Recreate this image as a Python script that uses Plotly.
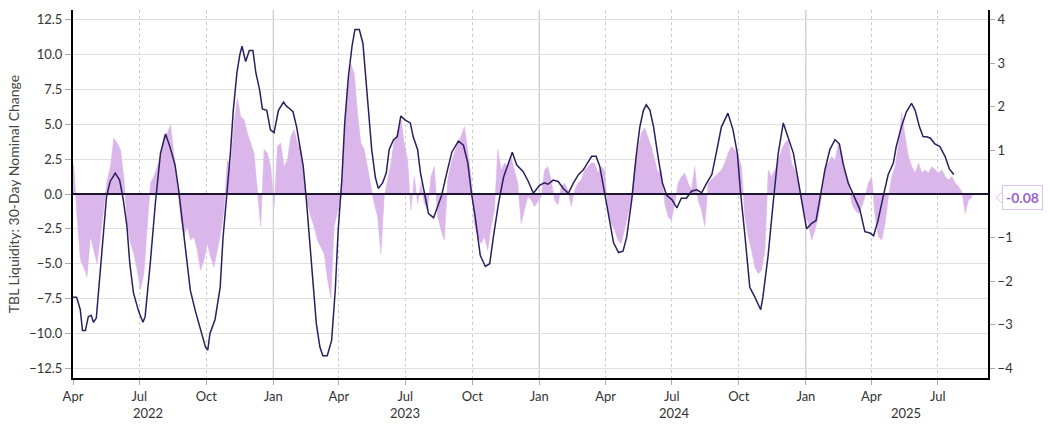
import pandas as pd
import plotly.graph_objects as go

# ---------------- data ----------------
line_dates = [
    "2022-04-01", "2022-04-06", "2022-04-11", "2022-04-14", "2022-04-18", "2022-04-22", "2022-04-26", "2022-04-29",
    "2022-05-03", "2022-05-08", "2022-05-13", "2022-05-17", "2022-05-22", "2022-05-29", "2022-06-04", "2022-06-09",
    "2022-06-14", "2022-06-18", "2022-06-23", "2022-06-30", "2022-07-06", "2022-07-09", "2022-07-16", "2022-07-23",
    "2022-07-30", "2022-08-06", "2022-08-12", "2022-08-19", "2022-08-24", "2022-08-28", "2022-09-02", "2022-09-09",
    "2022-09-16", "2022-09-23", "2022-09-30", "2022-10-03", "2022-10-06", "2022-10-13", "2022-10-20", "2022-10-24",
    "2022-10-29", "2022-11-03", "2022-11-07", "2022-11-12", "2022-11-16", "2022-11-19", "2022-11-24", "2022-11-29",
    "2022-12-04", "2022-12-08", "2022-12-13", "2022-12-17", "2022-12-23", "2022-12-28", "2023-01-02", "2023-01-08",
    "2023-01-15", "2023-01-19", "2023-01-24", "2023-01-28", "2023-02-02", "2023-02-07", "2023-02-11", "2023-02-15",
    "2023-02-20", "2023-02-25", "2023-03-01", "2023-03-06", "2023-03-10", "2023-03-16", "2023-03-22", "2023-03-27",
    "2023-03-31", "2023-04-05", "2023-04-09", "2023-04-14", "2023-04-19", "2023-04-23", "2023-04-29", "2023-05-04",
    "2023-05-07", "2023-05-12", "2023-05-16", "2023-05-21", "2023-05-25", "2023-05-31", "2023-06-05", "2023-06-09",
    "2023-06-15", "2023-06-20", "2023-06-25", "2023-07-01", "2023-07-08", "2023-07-12", "2023-07-18", "2023-07-22",
    "2023-07-27", "2023-08-02", "2023-08-09", "2023-08-14", "2023-08-20", "2023-08-27", "2023-09-03", "2023-09-12",
    "2023-09-19", "2023-09-25", "2023-09-30", "2023-10-05", "2023-10-12", "2023-10-19", "2023-10-25", "2023-10-30",
    "2023-11-06", "2023-11-13", "2023-11-20", "2023-11-25", "2023-12-01", "2023-12-10", "2023-12-17", "2023-12-24",
    "2024-01-01", "2024-01-08", "2024-01-13", "2024-01-20", "2024-01-27", "2024-02-03", "2024-02-10", "2024-02-17",
    "2024-02-24", "2024-03-01", "2024-03-07", "2024-03-13", "2024-03-19", "2024-03-24", "2024-03-30", "2024-04-05",
    "2024-04-12", "2024-04-19", "2024-04-25", "2024-04-30", "2024-05-07", "2024-05-13", "2024-05-18", "2024-05-23",
    "2024-05-27", "2024-06-01", "2024-06-06", "2024-06-12", "2024-06-18", "2024-06-24", "2024-07-01", "2024-07-08",
    "2024-07-14", "2024-07-21", "2024-07-28", "2024-08-04", "2024-08-11", "2024-08-18", "2024-08-25", "2024-09-01",
    "2024-09-07", "2024-09-16", "2024-09-23", "2024-09-29", "2024-10-03", "2024-10-09", "2024-10-16", "2024-10-23",
    "2024-10-31", "2024-11-03", "2024-11-10", "2024-11-17", "2024-11-24", "2024-12-01", "2024-12-08", "2024-12-15",
    "2024-12-22", "2024-12-29", "2025-01-02", "2025-01-09", "2025-01-15", "2025-01-20", "2025-01-27", "2025-02-03",
    "2025-02-10", "2025-02-16", "2025-02-21", "2025-02-28", "2025-03-09", "2025-03-16", "2025-03-23", "2025-03-30",
    "2025-04-04", "2025-04-10", "2025-04-17", "2025-04-24", "2025-05-01", "2025-05-05", "2025-05-12", "2025-05-19",
    "2025-05-26", "2025-05-31", "2025-06-06", "2025-06-11", "2025-06-16", "2025-06-21", "2025-06-27", "2025-07-04",
    "2025-07-11", "2025-07-17", "2025-07-23",
]
line_values = [
    -7.4, -7.4, -8.3, -9.8, -9.8, -8.8, -8.7, -9.2,
    -8.9, -5.9, -3.1, -0.2, 0.9, 1.5, 1.0, -0.4,
    -2.3, -5.0, -7.1, -8.4, -9.2, -8.8, -5.0, -0.7,
    2.9, 4.3, 3.4, 2.1, 0.3, -1.6, -3.5, -6.9,
    -8.4, -9.8, -11.0, -11.2, -10.0, -9.0, -6.7, -3.1,
    -0.1, 2.9, 6.0, 8.7, 10.0, 10.6, 9.5, 10.3,
    10.3, 8.7, 7.5, 6.1, 6.0, 4.6, 4.4, 6.0,
    6.6, 6.3, 6.1, 5.9, 4.8, 3.3, 2.0, -0.2,
    -3.5, -7.1, -9.3, -11.0, -11.6, -11.6, -10.5, -6.9,
    -2.6, 1.0, 5.1, 8.4, 10.6, 11.8, 11.8, 10.8,
    8.9, 5.6, 3.2, 1.2, 0.4, 0.8, 1.5, 3.2,
    3.9, 4.1, 5.6, 5.3, 5.1, 4.1, 3.2, 1.5,
    0.05, -1.4, -1.7, -0.9, -0.1, 1.5, 3.0, 3.8,
    3.5, 2.2, 0.05, -1.6, -4.4, -5.2, -5.0, -3.1,
    -0.7, 1.2, 2.3, 3.0, 2.1, 1.6, 0.9, 0.05,
    0.6, 0.8, 0.7, 1.0, 0.9, 0.4, 0.05, 0.8,
    1.4, 1.7, 2.2, 2.7, 2.7, 2.0, 0.3, -1.4,
    -3.5, -4.2, -4.1, -3.1, -0.4, 2.7, 4.8, 6.0,
    6.4, 6.0, 4.8, 2.7, 0.8, -0.1, -0.4, -1.0,
    -0.3, -0.3, 0.2, 0.3, 0.1, 0.8, 1.4, 3.2,
    4.8, 5.8, 4.6, 2.9, 0.3, -2.8, -6.7, -7.4,
    -8.3, -7.4, -4.5, -0.7, 2.9, 5.1, 4.0, 2.9,
    0.8, -1.4, -2.5, -2.1, -1.9, -0.4, 1.7, 3.2,
    3.9, 3.6, 2.2, 0.8, -0.2, -1.1, -2.7, -2.8,
    -3.0, -1.9, -0.2, 1.4, 2.2, 3.4, 4.8, 5.9,
    6.5, 6.0, 4.8, 4.1, 4.1, 4.0, 3.6, 3.4,
    2.7, 1.8, 1.4,
]

# 30-day nominal change series (right axis), regularly sampled
fill_start = "2022-03-28 10:00"
fill_step = "110h"
fill_values = [
    0.63, 0.67, -0.52, -1.52, -1.68, -1.9, -0.98, -1.29, -1.6, -0.98,
    -0.29, 0.32, 0.63, 1.28, 1.17, 1.02, 0.4, -0.68, -1.14, -1.37,
    -1.75, -2.2, -1.83, -0.75, 0.25, 0.4, 0.63, 0.86, 1.32, 1.4,
    1.59, 0.94, 0.25, -0.52, -0.98, -0.75, -1.06, -0.98, -1.29, -1.75,
    -1.52, -1.14, -1.45, -1.68, -1.29, -0.91, -0.37, 0.78, 0.63, 1.63,
    2.21, 1.78, 1.71, 1.4, 1.17, 0.94, 0.09, -0.75, 1.02, 0.94,
    0.63, -0.29, 1.09, 1.17, 0.63, 0.78, 1.32, 1.48, 1.17,
    1.02, 0.25, -0.22, -0.52, -0.75, -1.06, -1.22, -1.37, -1.95, -2.4,
    -0.75, -0.37, -0.06, 1.32, 2.32, 2.98, 2.78, 1.86, 1.17, 1.02,
    0.63, 0.25, -0.22, -0.52, -1.37, -0.06, 0.32, 0.71, 1.25, 1.4,
    1.71, 1.17, 0.78, -0.37, 0.4, -0.22, 0.25, -0.22, -0.37, 0.4,
    0.63, -0.52, -0.83, -1.06, 0.32, 0.71, 0.94, 1.17, 1.32, 1.55,
    1.02, 0.4, -0.68, -0.98, -1.14, -0.98, -1.29, -0.75, -0.37, 1.02,
    0.55, 0.71, 0.63, 0.86, 0.55, 0.25, -0.68, -0.37, -0.06,
    -0.14, -0.29, -0.18, -0.06, 0.55, 0.63, 0.32, -0.14, -0.25, 0.17,
    0.25, 0.09, -0.29, 0.09, 0.25, 0.32, 0.55, 0.63, 0.71, 0.71,
    0.48, 0.63, 0.55, -0.37, -0.68, -0.83, -1.06, -1.14, -0.83, -0.52,
    -0.14, 0.63, 1.02, 1.4, 1.52, 1.32, 1.09, 0.78, 0.48, 0.55,
    -0.22, -0.52, -0.6, -0.22, 0.25, 0.4, 0.48, 0.25, 0.09, 0.63,
    -0.14, -0.37, -0.75, 0.25, 0.32, 0.4, 0.48, 0.55, 0.71, 0.94,
    1.09, 1.02, 0.86, 0.63, -0.52, -0.98, -1.29, -1.68, -1.83,
    -1.75, -1.29, 0.55, 0.4, 0.55, 0.78, 1.02, 1.17, 1.25, 0.71,
    0.55, 0.32, -0.22, -0.45, -0.68, -1.06, -0.83, -0.52, -0.06, 0.63,
    0.71, 0.86, 0.78, 1.17, 0.94, 0.55, 0.32, -0.22, -0.37, -0.45,
    -0.29, -0.06, 0.25, 0.4, -0.52, -0.98, -1.06, -0.68, -0.06, 0.4,
    0.63, 1.17, 1.86, 1.32, 0.86, 0.63, 0.48, 0.71, 0.48, 0.55,
    0.48, 0.63, 0.55, 0.48, 0.55, 0.4, 0.32, 0.4, 0.25, 0.17,
    0.05, -0.45, -0.14, -0.08,
]

x_range = ["2022-04-01", "2025-09-08"]
tick_dates = ["2022-04-01", "2022-07-01", "2022-10-01", "2023-01-01", "2023-04-01", "2023-07-01",
              "2023-10-01", "2024-01-01", "2024-04-01", "2024-07-01", "2024-10-01", "2025-01-01",
              "2025-04-01", "2025-07-01"]
tick_text = ["Apr", "Jul", "Oct", "Jan", "Apr", "Jul", "Oct", "Jan", "Apr", "Jul", "Oct", "Jan", "Apr", "Jul"]
year_dates = ["2022-07-13", "2023-07-01", "2024-07-05", "2025-05-19"]
year_text = ["2022", "2023", "2024", "2025"]
jan_dates = ["2023-01-01", "2024-01-01", "2025-01-01"]

left_ticks = [-12.5, -10.0, -7.5, -5.0, -2.5, 0.0, 2.5, 5.0, 7.5, 10.0, 12.5]
right_ticks = [-4, -3, -2, -1, 1, 2, 3, 4]
left_range = [-13.2, 13.2]
right_range = [-4.224, 4.224]

# ---------------- styles ----------------
FONT = "Lato, 'Noto Sans', sans-serif"
LINE = "#2b1f5e"
FILL = "rgb(218,182,234)"
LABEL = "#9b62c8"
GRID = "#e0e0e0"
ZERO = "#1c1434"

fill_x = pd.date_range(fill_start, periods=len(fill_values), freq=fill_step)
last_value = fill_values[-1]

fig = go.Figure()
fig.add_trace(go.Scatter(
    x=fill_x, y=fill_values, mode="lines",
    line=dict(width=0.5, color=FILL), fill="tozeroy", fillcolor=FILL,
    yaxis="y", xaxis="x", hoverinfo="skip", showlegend=False,
))
fig.add_trace(go.Scatter(
    x=line_dates, y=line_values, mode="lines",
    line=dict(width=1.5, color=LINE), yaxis="y2", xaxis="x",
    showlegend=False,
))

fig.update_layout(
    width=1050, height=431,
    margin=dict(l=73, r=62, t=10, b=53, autoexpand=False),
    paper_bgcolor="white", plot_bgcolor="white",
    font=dict(family=FONT, size=13, color="#333"),
    showlegend=False,
    xaxis=dict(
        range=x_range, tickvals=tick_dates, ticktext=tick_text, automargin=False,
        showgrid=True, gridcolor="#cdcdcd", griddash="dot", gridwidth=1,
        showline=True, linecolor="black", linewidth=2,
        ticks="outside", ticklen=5, tickcolor="#aaaaaa", tickwidth=1,
        tickfont=dict(size=13, color="#333"), zeroline=False,
    ),
    yaxis=dict(
        side="right", range=right_range, tickvals=right_ticks, automargin=False,
        showgrid=False, showline=True, linecolor="black", linewidth=2,
        ticks="outside", ticklen=5, tickcolor="#aaaaaa",
        tickfont=dict(size=13, color="#333"), zeroline=False,
    ),
    yaxis2=dict(
        side="left", overlaying="y", range=left_range, tickvals=left_ticks, automargin=False,
        tickformat=".1f", showgrid=True, gridcolor=GRID, gridwidth=1,
        showline=True, linecolor="black", linewidth=2,
        ticks="outside", ticklen=6, tickcolor="#aaaaaa",
        tickfont=dict(size=13, color="#333"), zeroline=False,
        title=dict(text="TBL Liquidity: 30-Day Nominal Change",
                   font=dict(size=14, color="#444"), standoff=6),
    ),
)

# solid year-boundary gridlines
for d in jan_dates:
    fig.add_shape(type="line", xref="x", yref="paper", x0=d, x1=d, y0=0, y1=1,
                  layer="below", line=dict(color="#cfcfcf", width=1.3))

# zero reference line drawn over the area
fig.add_shape(type="line", xref="paper", yref="y", x0=0, x1=1, y0=0, y1=0,
              layer="above", line=dict(color=ZERO, width=2))

for d, t in zip(year_dates, year_text):
    fig.add_annotation(x=d, xref="x", y=0, yref="paper", yanchor="top", yshift=-25,
                       text=t, showarrow=False, font=dict(size=13, color="#333"))

# last-value label on the right axis
fig.add_shape(type="path", xref="paper", yref="y", xsizemode="pixel", ysizemode="pixel",
              xanchor=1, yanchor=last_value, path="M 8,0 L 15,6 L 15,-6 Z",
              fillcolor="white", line=dict(color="#dcc2ec", width=1))
fig.add_annotation(x=1, xref="paper", y=last_value, yref="y", xanchor="left", xshift=14,
                   text="<b>%.2f</b>" % last_value, showarrow=False,
                   font=dict(size=14, color=LABEL), bgcolor="white",
                   bordercolor="#dcc2ec", borderwidth=1, borderpad=3)

fig.write_html("out.html", config={"displayModeBar": False},
               post_script="document.body.style.margin='0px';document.body.style.overflow='hidden';")
